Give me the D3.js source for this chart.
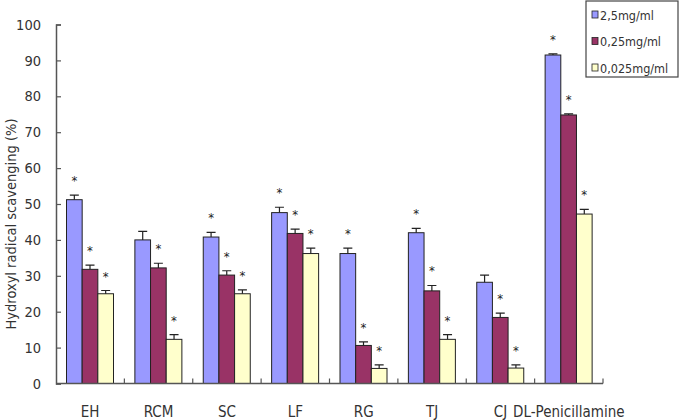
<!DOCTYPE html>
<html>
<head>
<meta charset="utf-8">
<script src="https://cdn.jsdelivr.net/npm/d3@7"></script>
<style>
  body { margin: 0; background: #fff; }
  text { font-family: "Liberation Sans Narrow", "DejaVu Sans Condensed", sans-serif; fill: #333; }
</style>
</head>
<body>
<div class="chart"></div>
<script>
// values
const categories = ['EH', 'RCM', 'SC', 'LF', 'RG', 'TJ', 'CJ', 'DL-Penicillamine'];
const seriesNames = ['2,5mg/ml', '0,25mg/ml', '0,025mg/ml'];
const high = [51.2, 40.0, 40.8, 47.6, 36.2, 42.0, 28.2, 91.5];
const mid = [31.8, 32.2, 30.2, 41.8, 10.6, 25.8, 18.4, 74.8];
const low = [25.0, 12.3, 25.0, 36.2, 4.2, 12.3, 4.3, 47.2];
const highErr = [1.3, 2.4, 1.3, 1.5, 1.5, 1.2, 2.0, 0.3];
const midErr = [1.2, 1.3, 1.2, 1.2, 1.0, 1.5, 1.2, 0.3];
const lowErr = [0.9, 1.3, 1.1, 1.5, 1.0, 1.3, 0.9, 1.3];
// 1 = significance star drawn over the bar
const highStar = [1, 0, 1, 1, 1, 1, 0, 1];
const midStar = [1, 1, 1, 1, 1, 1, 1, 1];
const lowStar = [1, 1, 1, 1, 1, 1, 1, 1];
const yTicks = [0, 10, 20, 30, 40, 50, 60, 70, 80, 90, 100];

const width = 687;
const height = 420;
const colors = ['#9999FF', '#993366', '#FFFFCC'];

const values = [high, mid, low];
const errs = [highErr, midErr, lowErr];
const stars = [highStar, midStar, lowStar];

const bars = [];
categories.forEach((c, i) => {
  seriesNames.forEach((s, j) => {
    bars.push({cat: c, series: s, value: values[j][i], err: errs[j][i], star: stars[j][i]});
  });
});

const x0 = d3.scaleBand().domain(categories).range([56, 603]);
const x1 = d3.scaleBand().domain(seriesNames).range([10.5, 57.5]);
const y = d3.scaleLinear().domain([0, 100]).range([383.5, 24.5]);
const color = d3.scaleOrdinal().domain(seriesNames).range(colors);

const svg = d3.select('.chart').append('svg')
  .attr('width', width).attr('height', height);

// bars
svg.selectAll('.bar').data(bars).enter()
  .append('rect')
  .attr('class', 'bar')
  .attr('x', d => x0(d.cat) + x1(d.series))
  .attr('y', d => y(d.value))
  .attr('width', x1.bandwidth())
  .attr('height', d => y(0) - y(d.value))
  .attr('fill', d => color(d.series))
  .attr('stroke', '#222')
  .attr('stroke-width', 1);

// error bars (upper half only)
const cx = d => x0(d.cat) + x1(d.series) + x1.bandwidth() / 2;
svg.selectAll('.err').data(bars).enter()
  .append('path')
  .attr('class', 'err')
  .attr('d', d => `M${cx(d)},${y(d.value)}V${y(d.value + d.err)}M${cx(d) - 4.5},${y(d.value + d.err)}H${cx(d) + 4.5}`)
  .attr('stroke', '#222')
  .attr('stroke-width', 1.2)
  .attr('fill', 'none');

// stars
svg.selectAll('.star').data(bars.filter(d => d.star)).enter()
  .append('text')
  .attr('class', 'star')
  .attr('x', d => cx(d))
  .attr('y', d => y(d.value + d.err) - 10)
  .attr('text-anchor', 'middle')
  .attr('font-size', 13)
  .style('fill', '#222')
  .text('*');

// y axis
const yAxis = svg.append('g')
  .attr('transform', 'translate(56,0)')
  .call(d3.axisLeft(y).tickValues(yTicks).tickSize(-5).tickPadding(15));
yAxis.select('.domain').attr('stroke', '#555').attr('stroke-width', 1.5);
yAxis.selectAll('.tick line').attr('stroke', '#555').attr('stroke-width', 1.2);
yAxis.selectAll('.tick text').attr('font-size', 14.5).style('fill', '#333');

// x axis with inside ticks at category boundaries
const xAxis = svg.append('g')
  .attr('transform', `translate(0,${y(0)})`);
xAxis.append('line')
  .attr('x1', x0.range()[0]).attr('x2', x0.range()[1])
  .attr('stroke', '#555').attr('stroke-width', 1.5);
xAxis.selectAll('.xtick').data(categories).enter()
  .append('line')
  .attr('class', 'xtick')
  .attr('x1', d => x0(d) + x0.bandwidth())
  .attr('x2', d => x0(d) + x0.bandwidth())
  .attr('y1', 0).attr('y2', -5)
  .attr('stroke', '#555').attr('stroke-width', 1.2);
xAxis.selectAll('.xlabel').data(categories).enter()
  .append('text')
  .attr('class', 'xlabel')
  .attr('x', d => x0(d) + x0.bandwidth() / 2)
  .attr('y', 33)
  .attr('text-anchor', 'middle')
  .attr('font-size', 15)
  .text(d => d);

// y title
svg.append('text')
  .attr('transform', `translate(16,${(y(0) + y(100)) / 2 + 20}) rotate(-90)`)
  .attr('text-anchor', 'middle')
  .attr('font-size', 14.5)
  .text('Hydroxyl radical scavenging (%)');

// legend
const legend = svg.append('g').attr('transform', 'translate(586,1)');
legend.append('rect')
  .attr('width', 92).attr('height', 76)
  .attr('fill', '#fff').attr('stroke', '#444').attr('stroke-width', 1.2);
const items = legend.selectAll('.item').data(seriesNames).enter()
  .append('g')
  .attr('class', 'item')
  .attr('transform', (d, i) => `translate(6,${14 + i * 26.5})`);
items.append('rect')
  .attr('x', 0).attr('y', -4)
  .attr('width', 6).attr('height', 7)
  .attr('fill', d => color(d))
  .attr('stroke', '#222').attr('stroke-width', 0.8);
items.append('text')
  .attr('x', 8).attr('y', 4.5)
  .attr('font-size', 12.5)
  .text(d => d);
</script>
</body>
</html>
